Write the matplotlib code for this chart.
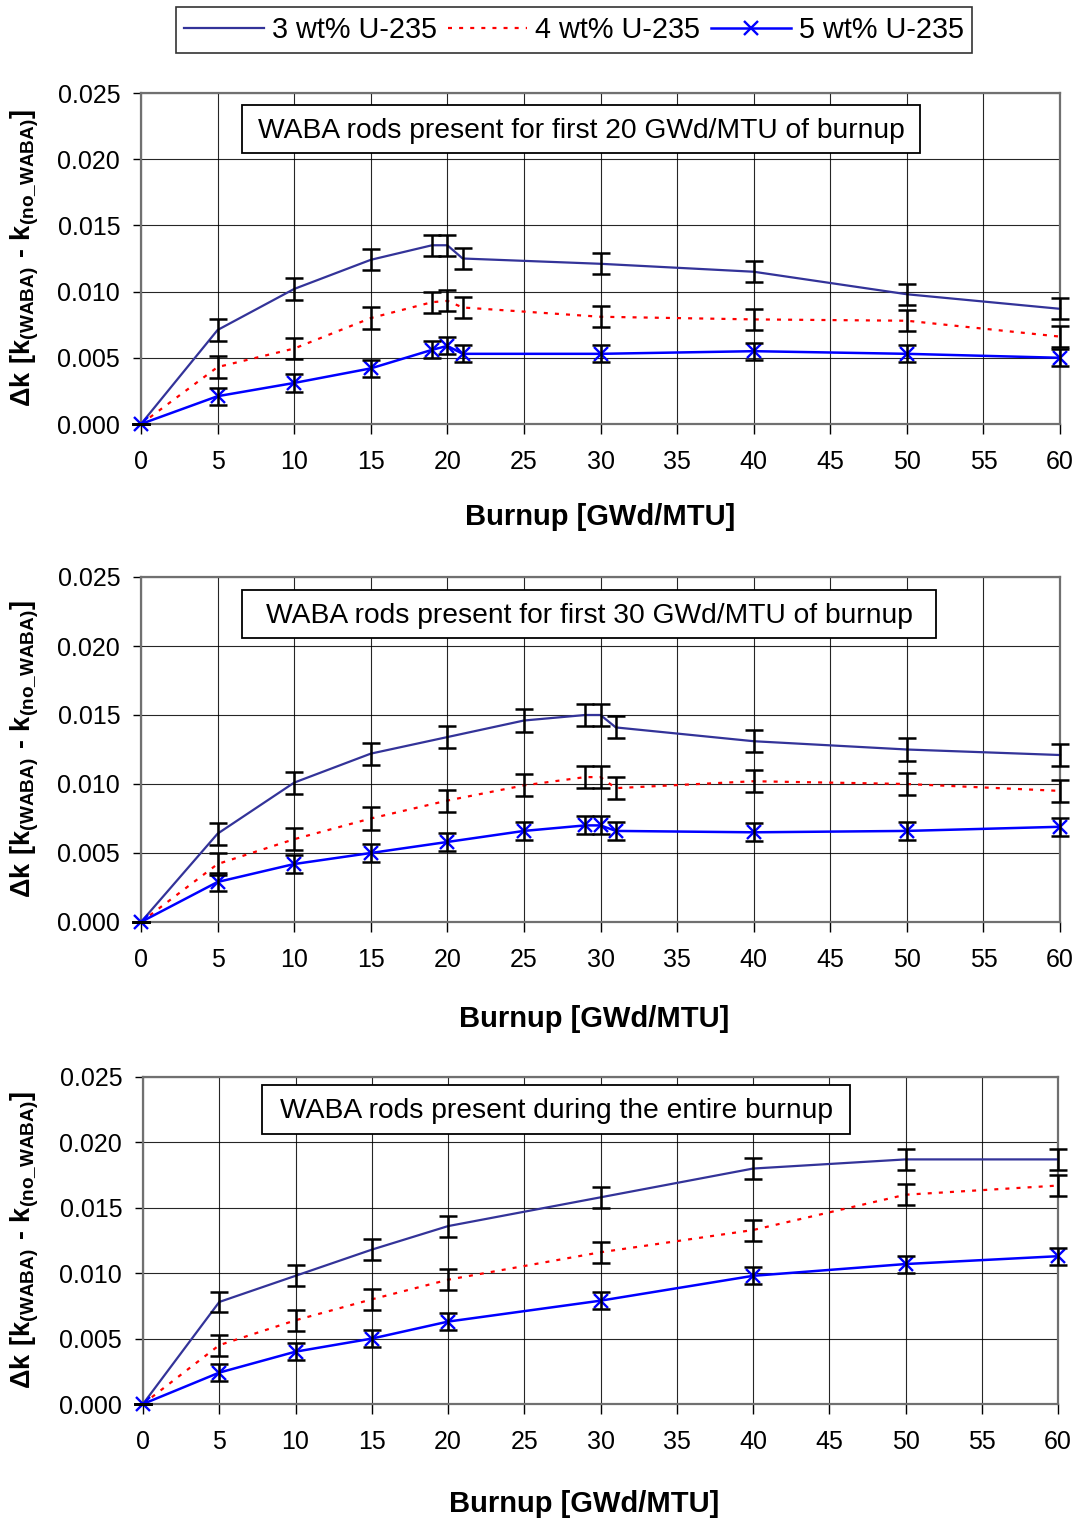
import matplotlib
matplotlib.use("Agg")
import matplotlib.pyplot as plt
from matplotlib.lines import Line2D
from matplotlib.patches import Rectangle

plt.rcParams['font.family'] = ['Liberation Sans', 'DejaVu Sans']
plt.rcParams['mathtext.fontset'] = 'custom'
plt.rcParams['mathtext.bf'] = 'Liberation Sans:bold'
plt.rcParams['mathtext.rm'] = 'Liberation Sans:bold'

# ---------------- data ----------------
x1 = [0, 5, 10, 15, 19, 20, 21, 30, 40, 50, 60]
p1_u3 = [0, 0.0071, 0.0102, 0.0124, 0.0135, 0.0135, 0.0125, 0.0121, 0.0115, 0.0098, 0.0087]
p1_u4 = [0, 0.0043, 0.0057, 0.0080, 0.0092, 0.0093, 0.0088, 0.0081, 0.0079, 0.0078, 0.0066]
p1_u5 = [0, 0.0021, 0.0031, 0.0042, 0.0056, 0.0059, 0.0053, 0.0053, 0.0055, 0.0053, 0.0050]

x2 = [0, 5, 10, 15, 20, 25, 29, 30, 31, 40, 50, 60]
p2_u3 = [0, 0.0064, 0.0101, 0.0122, 0.0134, 0.0146, 0.0150, 0.0150, 0.0141, 0.0131, 0.0125, 0.0121]
p2_u4 = [0, 0.0042, 0.0060, 0.0075, 0.0088, 0.0099, 0.0105, 0.0105, 0.0097, 0.0102, 0.0100, 0.0095]
p2_u5 = [0, 0.0029, 0.0042, 0.0050, 0.0058, 0.0066, 0.0070, 0.0070, 0.0066, 0.0065, 0.0066, 0.0069]

x3 = [0, 5, 10, 15, 20, 30, 40, 50, 60]
p3_u3 = [0, 0.0078, 0.0098, 0.0118, 0.0136, 0.0158, 0.0180, 0.0187, 0.0187]
p3_u4 = [0, 0.0045, 0.0064, 0.0080, 0.0095, 0.0116, 0.0133, 0.0160, 0.0167]
p3_u5 = [0, 0.0024, 0.0040, 0.0050, 0.0063, 0.0079, 0.0098, 0.0107, 0.0113]

# error-bar half widths (estimated, per series)
err_u3 = 0.0008
err_u4 = 0.0008
err_u5 = 0.00065

series_labels = ['3 wt% U-235', '4 wt% U-235', '5 wt% U-235']
panel_titles = ['WABA rods present for first 20 GWd/MTU of burnup',
                'WABA rods present for first 30 GWd/MTU of burnup',
                'WABA rods present during the entire burnup']
xticks = list(range(0, 61, 5))
yticks = [0.000, 0.005, 0.010, 0.015, 0.020, 0.025]
ytick_labels = ['0.000', '0.005', '0.010', '0.015', '0.020', '0.025']
xlabel = 'Burnup [GWd/MTU]'
ylabel = r'$\mathbf{\Delta k\ [k_{(WABA)}\ \text{-}\ k_{(no\_WABA)}]}$'

c3 = '#333399'
c4 = '#FF0000'
c5 = '#0000FF'
dots = (0, (1.8, 3.2))

W, H = 1080, 1523
fig = plt.figure(figsize=(W / 100, H / 100), dpi=100)

def ax_rect(l, r, t, b):
    return [l / W, 1 - b / H, (r - l) / W, (b - t) / H]

panels = [
    (ax_rect(141, 1060, 93, 424), x1, p1_u3, p1_u4, p1_u5, (242, 920, 105, 153), (517, 600)),
    (ax_rect(141, 1060, 577, 922), x2, p2_u3, p2_u4, p2_u5, (242, 936, 590, 638), (1019, 594)),
    (ax_rect(143, 1058, 1077, 1404), x3, p3_u3, p3_u4, p3_u5, (262, 850, 1085, 1134), (1504, 584)),
]

for i, (rect, xs, a, b, c, box, xlpos) in enumerate(panels):
    ax = fig.add_axes(rect)
    ax.set_xlim(0, 60)
    ax.set_ylim(0, 0.025)
    ax.set_xticks(xticks)
    ax.set_yticks(yticks)
    ax.set_yticklabels(ytick_labels)
    ax.grid(True, color='black', lw=0.8, alpha=0.85)
    ax.set_axisbelow(True)
    for s in ax.spines.values():
        s.set_color('#707070')
        s.set_linewidth(1.6)
    ax.tick_params(axis='x', length=7, width=1, pad=12, labelsize=18)
    ax.tick_params(axis='y', length=6, width=1, pad=9, labelsize=18)

    ax.plot(xs, a, color=c3, lw=1.6, clip_on=False, zorder=3)
    ax.plot(xs, b, color=c4, lw=1.6, ls=dots, clip_on=False, zorder=3)
    ax.plot(xs, c, color=c5, lw=1.8, marker='x', ms=10.5, mew=1.7, clip_on=False, zorder=4)
    for ys, e in ((a, err_u3), (b, err_u4), (c, err_u5)):
        errs = [0 if x == 0 else e for x in xs]
        eb = ax.errorbar(xs, ys, yerr=errs, fmt='none', ecolor='black',
                         elinewidth=1.8, capsize=6.5, capthick=1.8, zorder=5)
        for art in eb.lines[1]:
            art.set_clip_on(False)
        for art in eb.lines[2]:
            art.set_clip_on(False)

    l, r, t, btm = box
    fig.patches.append(Rectangle((l / W, 1 - btm / H), (r - l) / W, (btm - t) / H,
                                 transform=fig.transFigure, fc='white', ec='black',
                                 lw=1.3, zorder=10))
    fig.text((l + r) / 2 / W, 1 - ((t + btm) / 2 + 2) / H, panel_titles[i], ha='center',
             va='center', fontsize=20.3, zorder=11)
    fig.text(xlpos[1] / W, 1 - xlpos[0] / H, xlabel, ha='center', va='center',
             fontsize=21, fontweight='bold')
    ycen = (rect[1] + rect[3] / 2)
    fig.text(25 / W, ycen, ylabel, rotation=90, ha='center', va='center', fontsize=19.5)

handles = [Line2D([], [], color=c3, lw=1.6),
           Line2D([], [], color=c4, lw=1.6, ls=dots),
           Line2D([], [], color=c5, lw=1.8, marker='x', ms=10.5, mew=1.7)]
leg = fig.legend(handles, series_labels, loc='center', bbox_to_anchor=(574 / W, 1 - 30 / H),
                 ncol=3, fontsize=20.8, frameon=True, fancybox=False, edgecolor='black',
                 handlelength=2.75, handletextpad=0.28, columnspacing=0.38, borderpad=0.3,
                 borderaxespad=0)
leg.get_frame().set_linewidth(1.2)

fig.savefig('out.png', dpi=100)
